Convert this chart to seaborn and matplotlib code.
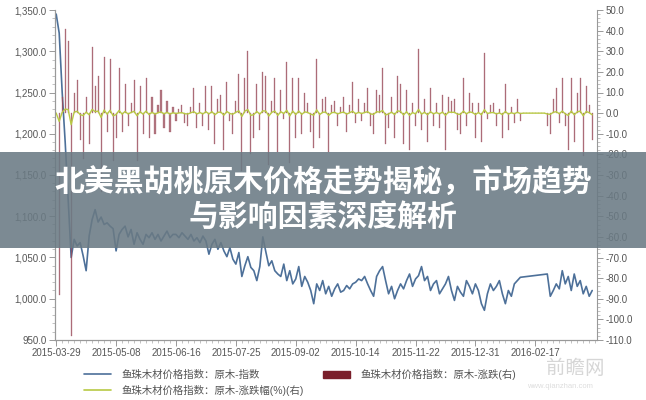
import numpy as np
import pandas as pd
import matplotlib.pyplot as plt
import seaborn as sns
from matplotlib.ticker import MultipleLocator, FuncFormatter
from matplotlib.lines import Line2D
from matplotlib.patches import Patch, Rectangle

# ---------- data ----------
tick_labels = ["2015-03-29", "2015-05-08", "2015-06-16", "2015-07-25", "2015-09-02",
               "2015-10-14", "2015-11-22", "2015-12-31", "2016-02-17"]

# 鱼珠木材价格指数：原木-指数 (left axis)
idx_vals = [1345, 1322, 1250, 1190, 1120, 1050, 1072, 1064, 1068, 1052,
            1034, 1076, 1096, 1108, 1093, 1099, 1090, 1092, 1088, 1085,
            1058, 1078, 1084, 1088, 1075, 1084, 1066, 1080, 1072, 1066,
            1078, 1074, 1080, 1072, 1078, 1070, 1076, 1082, 1074, 1078,
            1078, 1074, 1080, 1076, 1072, 1078, 1070, 1074, 1068, 1076,
            1070, 1054, 1066, 1072, 1060, 1068, 1058, 1051, 1062, 1048,
            1042, 1056, 1027, 1040, 1051, 1038, 1034, 1022, 1039, 1075,
            1057, 1040, 1046, 1034, 1030, 1027, 1042, 1022, 1034, 1018,
            1024, 1039, 1015, 1027, 1020, 1010, 994, 1018, 1010, 1022,
            1006, 1015, 1003, 1012, 1018, 1008, 1010, 1016, 1012, 1018,
            1020, 1024, 1022, 1027, 1018, 1010, 1003, 1027, 1034, 1039,
            1022, 1006, 1015, 1000, 1010, 1018, 1012, 1022, 1030, 1015,
            1024, 1028, 1039, 1022, 1027, 1010, 1018, 1022, 1006, 1012,
            1018, 1027, 1010, 998, 1015, 1008, 1003, 1022, 1015, 1006,
            1018, 1010, 994, 986, 1006, 1018, 1010, 1015, 1022, 1006,
            994, 1010, 1003, 1018, 1022, 1026, None, None, None, None,
            None, None, None, None, 1030, 1003, 1010, 1018, 1012, 1034,
            1018, 1027, 1010, 1030, 1015, 1022, 1006, 1015, 1003, 1010]

# 鱼珠木材价格指数：原木-涨跌 (right axis, bars)
chg_vals = [0, -88, 8, 41, 35, -108, 10, 16, -13, -22,
            8, -15, 32, 13, 18, -38, 27, -9, 26, -23,
            -12, 22, -9, 14, -6, 5, 16, -23, 13, -10,
            17, -12, 8, -10, 4, 11, -7, 6, -9, 3,
            -4, 2, 4, -5, -6, 3, 12, -7, 5, -6,
            13, -8, 13, -15, 7, 9, -18, 15, -4, -10,
            6, 19, -28, 17, 30, -20, -12, 14, -8, 20,
            18, -25, 6, 17, -19, 11, -3, 25, -24, 17,
            -12, 17, -10, 10, 5, -9, -17, 26, -12, 7,
            8, -19, 4, 6, -6, 3, 8, -9, 4, 15,
            -5, 7, -4, 5, 12, -6, -10, 11, 9, 22,
            -15, -7, 8, -12, 18, 14, -15, 11, -18, 5,
            -6, 31, -8, 7, -14, 12, -6, 5, -7, 9,
            -18, 8, 6, 7, -8, -10, 17, -6, 10, 5,
            -12, 5, -14, 29, -3, 4, 5, -6, 2, -12,
            14, -8, 3, -5, 7, -4, 0, 0, 0, 0,
            0, 0, 0, 0, -6, -10, 7, 12, -5, 17,
            -6, -18, 17, -14, 10, 17, -21, 13, 4, -13]

# 鱼珠木材价格指数：原木-涨跌幅(%) (right axis, line)
pct_vals = [0, -4.0, 0.4, 2.0, 1.7, -5.6, 0.5, 0.9, -0.7, -1.2,
            0.5, -0.8, 1.8, 0.7, 1.0, -2.1, 1.5, -0.5, 1.4, -1.3,
            -0.7, 1.3, -0.5, 0.8, -0.4, 0.3, 0.9, -1.3, 0.7, -0.5,
            1.0, -0.7, 0.4, -0.5, 0.2, 0.6, -0.4, 0.4, -0.5, 0.2,
            -0.2, 0.1, 0.2, -0.3, -0.4, 0.2, 0.7, -0.4, 0.3, -0.4,
            0.7, -0.4, 0.7, -0.8, 0.4, 0.5, -1.0, 0.8, -0.2, -0.5,
            0.4, 1.1, -1.6, 1.0, 1.7, -1.1, -0.7, 0.8, -0.5, 1.1,
            1.0, -1.4, 0.4, 1.0, -1.1, 0.7, -0.2, 1.4, -1.4, 1.0,
            -0.7, 1.0, -0.6, 0.6, 0.3, -0.5, -1.0, 1.6, -0.7, 0.4,
            0.5, -1.1, 0.2, 0.4, -0.4, 0.2, 0.5, -0.5, 0.2, 0.9,
            -0.3, 0.4, -0.2, 0.3, 0.7, -0.4, -0.6, 0.7, 0.5, 1.3,
            -0.9, -0.4, 0.5, -0.7, 1.1, 0.8, -0.9, 0.7, -1.1, 0.3,
            -0.4, 1.8, -0.5, 0.4, -0.8, 0.7, -0.4, 0.3, -0.4, 0.5,
            -1.1, 0.5, 0.4, 0.4, -0.5, -0.6, 1.0, -0.4, 0.6, 0.3,
            -0.7, 0.3, -0.8, 1.7, -0.2, 0.2, 0.3, -0.4, 0.1, -0.7,
            0.8, -0.5, 0.2, -0.3, 0.4, -0.2, 0, 0, 0, 0,
            0, 0, 0, 0, -0.4, -0.6, 0.4, 0.7, -0.3, 1.0,
            -0.4, -1.1, 1.0, -0.8, 0.6, 1.0, -1.3, 0.8, 0.2, -0.8]

label_idx = "鱼珠木材价格指数：原木-指数"
label_pct = "鱼珠木材价格指数：原木-涨跌幅(%)(右)"
label_chg = "鱼珠木材价格指数：原木-涨跌(右)"
title_lines = ["北美黑胡桃原木价格走势揭秘，市场趋势", "与影响因素深度解析"]

# ---------- style ----------
sns.set_style("ticks")
plt.rcParams["font.family"] = ["Liberation Sans", "Noto Sans CJK SC", "DejaVu Sans"]

BLUE = "#4d7099"
GREEN = "#b8c944"
RED = "#9a4b59"
GREY = "#555555"

df = pd.DataFrame({"pos": np.arange(len(idx_vals)), "index": idx_vals,
                   "chg": chg_vals, "pct": pct_vals})
df["index"] = pd.to_numeric(df["index"])

fig = plt.figure(figsize=(6.46, 4.0), dpi=100)
ax = fig.add_axes([55 / 646, 60 / 400, 542 / 646, 330 / 400])
ax2 = ax.twinx()

sns.barplot(data=df, x="pos", y="chg", native_scale=True, width=0.35, color=RED,
            saturation=1, alpha=0.75, errorbar=None, edgecolor=RED, linewidth=0.25, ax=ax2)
sns.lineplot(data=df, x="pos", y="pct", color=GREEN, lw=1.0, ax=ax2)
sns.lineplot(data=df.dropna(subset=["index"]), x="pos", y="index", color=BLUE, lw=1.2, ax=ax)

ax.set_xlim(-0.4, 180.6)
ax.set_ylim(950, 1350)
ax2.set_ylim(-110, 50)

# ---------- axes ----------
ax.yaxis.set_major_locator(MultipleLocator(50))
ax.yaxis.set_minor_locator(MultipleLocator(10))
ax.yaxis.set_major_formatter(FuncFormatter(lambda v, p: f"{v:,.1f}"))
ax2.yaxis.set_major_locator(MultipleLocator(10))
ax2.yaxis.set_minor_locator(MultipleLocator(2))
ax2.yaxis.set_major_formatter(FuncFormatter(lambda v, p: f"{v:.1f}"))
ax.set_xticks(np.arange(0, 161, 20))
ax.set_xticklabels(tick_labels)
ax.xaxis.set_minor_locator(MultipleLocator(2))

for a in (ax, ax2):
    a.set_xlabel("")
    a.set_ylabel("")
    a.spines["top"].set_visible(False)
    for s in a.spines.values():
        s.set_color("#999999")
        s.set_linewidth(0.8)
    a.tick_params(which="major", length=4, width=0.7, color="#999999",
                  labelsize=7, labelcolor=GREY, pad=2)
    a.tick_params(which="minor", length=2, width=0.5, color="#aaaaaa")
ax.spines["right"].set_visible(False)

# ---------- legend ----------
handles = [Line2D([], [], color=BLUE, lw=1.2),
           Line2D([], [], color=GREEN, lw=1.2),
           Patch(color="#7a1f2b")]
fig.legend(handles, [label_idx, label_pct, label_chg], ncol=2, loc="upper left",
           bbox_to_anchor=(84 / 646, 1 - 369 / 400), frameon=False, fontsize=7.5,
           handlelength=2.6, handletextpad=1.0, columnspacing=1.8, labelspacing=0.45,
           borderpad=0, borderaxespad=0, labelcolor=GREY)

# watermark
fig.text(575 / 646, 1 - 368 / 400, "前瞻网", ha="center", va="center", fontsize=14,
         color="#cccccc", alpha=0.8, family=["Noto Sans CJK SC"])
fig.text(560 / 646, 1 - 386 / 400, "www.qianzhan.com", ha="center", va="center",
         fontsize=5.5, color="#dddddd")

# ---------- title banner ----------
fig.add_artist(Rectangle((0, 1 - 248 / 400), 1, 96 / 400, transform=fig.transFigure,
                         facecolor="#6a7a84", alpha=0.88, edgecolor="none", zorder=10))
fig.text(0.5, 1 - 183 / 400, title_lines[0], ha="center", va="center", fontsize=21.5,
         weight="heavy", color="white", zorder=11, family=["Noto Sans CJK SC"])
fig.text(0.5, 1 - 218 / 400, title_lines[1], ha="center", va="center", fontsize=21.5,
         weight="heavy", color="white", zorder=11, family=["Noto Sans CJK SC"])

plt.savefig("out.png", dpi=100)
